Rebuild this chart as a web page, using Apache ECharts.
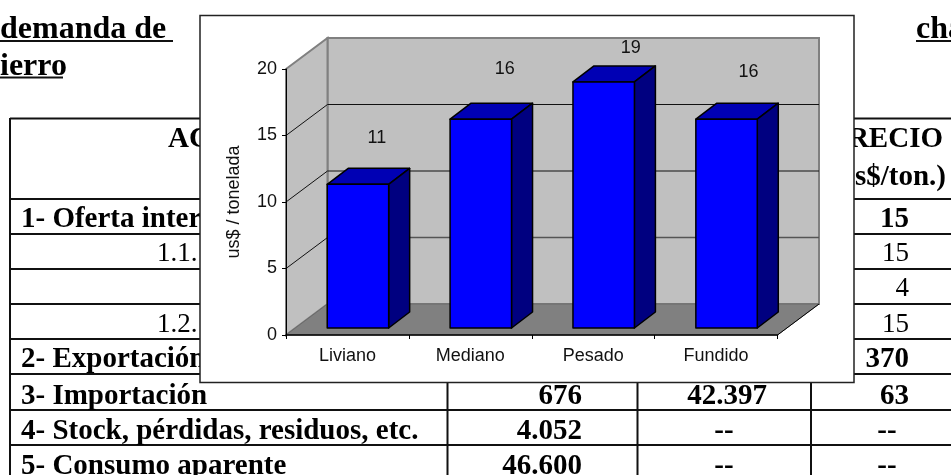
<!DOCTYPE html>
<html>
<head>
<meta charset="utf-8">
<style>
  html, body { margin: 0; padding: 0; background: #fff; }
  #chart { width: 951px; height: 475px; }
</style>
</head>
<body>
<div id="chart"></div>
<script src="https://cdn.jsdelivr.net/npm/echarts@6/dist/echarts.min.js"></script>
<script>
// chart data
const categories = ['Liviano', 'Mediano', 'Pesado', 'Fundido']
const prices = [10.8, 15.7, 18.5, 15.7]
const yTicks = [5, 10, 15]

// table behind the chart, only the parts that can be seen
const titleLines = ['demanda de', 'ierro', 'cha']
const rowLabels = ['1- Oferta inter', '1.1.', '', '1.2.', '2- Exportación', '3- Importación', '4- Stock, pérdidas, residuos, etc.', '5- Consumo aparente']
const rowBold = [true, false, false, false, true, true, true, true]
const tonsColumn = ['676', '4.052', '46.600']
const valueColumn = ['42.397', '--', '--']
const priceColumn = ['15', '15', '4', '15', '370', '63', '--', '--']

// layout
const depthX = 41.5
const depthY = 31
const barDepthX = 21
const barDepthY = 16
const barInsetX = 10.5
const barInsetY = 7
const labelShift = [[19, -46], [24, -50], [27, -34], [22, -47]]
const rowLines = [118.5, 199, 234, 269, 304, 339, 374, 410, 445]
const rowCenters = [218, 253, 288, 324, 358, 395, 430, 465]
const sansFont = '"Liberation Sans", Arial, sans-serif'
const serifFont = '"Liberation Serif", "Times New Roman", serif'
const titleSize = 32
const boldSize = 29
const plainSize = 27

function hline (y, x1, x2) {
  return { type: 'line', z: 0, shape: { x1: x1, y1: y, x2: x2, y2: y }, style: { stroke: '#111', lineWidth: 2 } }
}
function vline (x, y1, y2) {
  return { type: 'line', z: 0, shape: { x1: x, y1: y1, x2: x, y2: y2 }, style: { stroke: '#111', lineWidth: 2 } }
}
function docText (text, x, y, align, bold, size) {
  return {
    type: 'text',
    z: 0,
    x: x,
    y: y + (bold ? 2 : 1),
    style: {
      text: text,
      fill: '#000',
      align: align,
      verticalAlign: 'middle',
      font: (bold ? 'bold ' : '') + (size || (bold ? boldSize : plainSize)) + 'px ' + serifFont
    }
  }
}

function buildDocument () {
  let els = []
  els.push(docText(titleLines[0], 0, 28, 'left', true, titleSize))
  els.push(docText(titleLines[1], 0, 65, 'left', true, titleSize))
  els.push(docText(titleLines[2], 916, 28, 'left', true, titleSize))
  els.push(hline(41, 0, 173))
  els.push(hline(77.5, 0, 63))
  els.push(hline(41, 916, 951))
  rowLines.forEach(y => els.push(hline(y, 10, 951)))
  ;[10, 447.5, 637.5, 811].forEach(x => els.push(vline(x, 118, 475)))
  els.push(docText('AC', 168, 138, 'left', true))
  els.push(docText('RECIO', 943, 138, 'right', true))
  els.push(docText('s$/ton.)', 946, 176, 'right', true))
  rowLabels.forEach((label, i) => {
    if (!label) return
    els.push(docText(label, rowBold[i] ? 21 : 157, rowCenters[i], 'left', rowBold[i]))
  })
  tonsColumn.forEach((v, i) => els.push(docText(v, 582, rowCenters[i + 5], 'right', true)))
  valueColumn.forEach((v, i) => els.push(docText(v, i === 0 ? 727 : 724, rowCenters[i + 5], 'center', true)))
  priceColumn.forEach((v, i) => {
    if (v === '--') {
      els.push(docText(v, 887, rowCenters[i], 'center', true))
    } else {
      els.push(docText(v, 909, rowCenters[i], 'right', rowBold[i]))
    }
  })
  // white chart box over the table
  els.push({
    type: 'rect',
    z: 1,
    shape: { x: 200, y: 15.5, width: 654, height: 367 },
    style: { fill: '#fff', stroke: '#222', lineWidth: 1.5 }
  })
  return els
}

// side wall, back wall and floor, tied to the axis scale
function renderWalls (params, api) {
  const cs = params.coordSys
  const left = cs.x
  const right = cs.x + cs.width
  const base = api.coord([0, 0])[1]
  const top = api.coord([0, 20])[1]
  const children = [
    {
      type: 'polygon',
      shape: { points: [[left + depthX, top - depthY], [right + depthX, top - depthY], [right + depthX, base - depthY], [left + depthX, base - depthY]] },
      style: { fill: '#c0c0c0', stroke: '#808080', lineWidth: 2 }
    },
    {
      type: 'polygon',
      shape: { points: [[left, top], [left + depthX, top - depthY], [left + depthX, base - depthY], [left, base]] },
      style: { fill: '#c0c0c0', stroke: '#808080', lineWidth: 2 }
    },
    {
      type: 'polygon',
      shape: { points: [[left, base], [right, base], [right + depthX, base - depthY], [left + depthX, base - depthY]] },
      style: { fill: '#808080', stroke: '#6a6a6a', lineWidth: 1 }
    },
    {
      type: 'line',
      shape: { x1: right, y1: base, x2: right + depthX, y2: base - depthY },
      style: { stroke: '#000', lineWidth: 1 }
    }
  ]
  yTicks.forEach(t => {
    const y = api.coord([0, t])[1]
    children.push({
      type: 'line',
      shape: { x1: left, y1: y, x2: left + depthX, y2: y - depthY },
      style: { stroke: '#111', lineWidth: 1 }
    })
    children.push({
      type: 'line',
      shape: { x1: left + depthX, y1: y - depthY, x2: right + depthX, y2: y - depthY },
      style: { stroke: t === 5 ? '#555' : '#111', lineWidth: t === 5 ? 1.5 : 1 }
    })
  })
  return { type: 'group', children: children }
}

// box bar: front, top, side and its number
function renderBar (params, api) {
  const idx = api.value(0)
  const val = api.value(1)
  const pt = api.coord([idx, val])
  const zero = api.coord([idx, 0])
  const w = api.size([1, 0])[0] * 0.5
  const x1 = pt[0] - w / 2 + barInsetX
  const x2 = x1 + w
  const yTop = pt[1] - barInsetY
  const yBot = zero[1] - barInsetY
  const edge = { stroke: '#000', lineWidth: 1.5, lineJoin: 'round' }
  return {
    type: 'group',
    children: [
      {
        type: 'polygon',
        shape: { points: [[x1, yTop], [x2, yTop], [x2 + barDepthX, yTop - barDepthY], [x1 + barDepthX, yTop - barDepthY]] },
        style: Object.assign({ fill: '#0000b4' }, edge)
      },
      {
        type: 'polygon',
        shape: { points: [[x2, yTop], [x2 + barDepthX, yTop - barDepthY], [x2 + barDepthX, yBot - barDepthY], [x2, yBot]] },
        style: Object.assign({ fill: '#000080' }, edge)
      },
      {
        type: 'rect',
        shape: { x: x1, y: yTop, width: w, height: yBot - yTop },
        style: Object.assign({ fill: '#0000ff' }, edge)
      },
      {
        type: 'text',
        x: (x1 + x2) / 2 + labelShift[idx][0],
        y: yTop + labelShift[idx][1],
        style: {
          text: String(Math.round(val)),
          fill: '#111',
          align: 'center',
          verticalAlign: 'middle',
          font: '18px ' + sansFont
        }
      }
    ]
  }
}

const chart = echarts.init(document.getElementById('chart'), null, { renderer: 'canvas' })
chart.setOption({
  animation: false,
  backgroundColor: '#fff',
  graphic: { elements: buildDocument() },
  grid: { left: 286, top: 69, width: 491.5, height: 266 },
  xAxis: {
    type: 'category',
    data: categories,
    z: 5,
    axisLine: { lineStyle: { color: '#000', width: 1.5 } },
    axisTick: { show: true, length: 4, lineStyle: { color: '#000' } },
    axisLabel: { color: '#111', fontFamily: sansFont, fontSize: 18, margin: 12 },
    splitLine: { show: false }
  },
  yAxis: {
    type: 'value',
    min: 0,
    max: 20,
    interval: 5,
    z: 5,
    name: 'us$ / tonelada',
    nameLocation: 'middle',
    nameGap: 43,
    nameTextStyle: { color: '#111', fontFamily: sansFont, fontSize: 18 },
    axisLine: { show: true, lineStyle: { color: '#000', width: 1 } },
    axisTick: { show: true, length: 4, lineStyle: { color: '#000' } },
    axisLabel: { color: '#111', fontFamily: sansFont, fontSize: 18, margin: 9 },
    splitLine: { show: false }
  },
  series: [
    {
      type: 'custom',
      z: 2,
      silent: true,
      renderItem: renderWalls,
      data: [[0, 0]]
    },
    {
      type: 'custom',
      z: 6,
      renderItem: renderBar,
      encode: { x: 0, y: 1 },
      data: prices.map((v, i) => [i, v])
    }
  ]
})
</script>
</body>
</html>
